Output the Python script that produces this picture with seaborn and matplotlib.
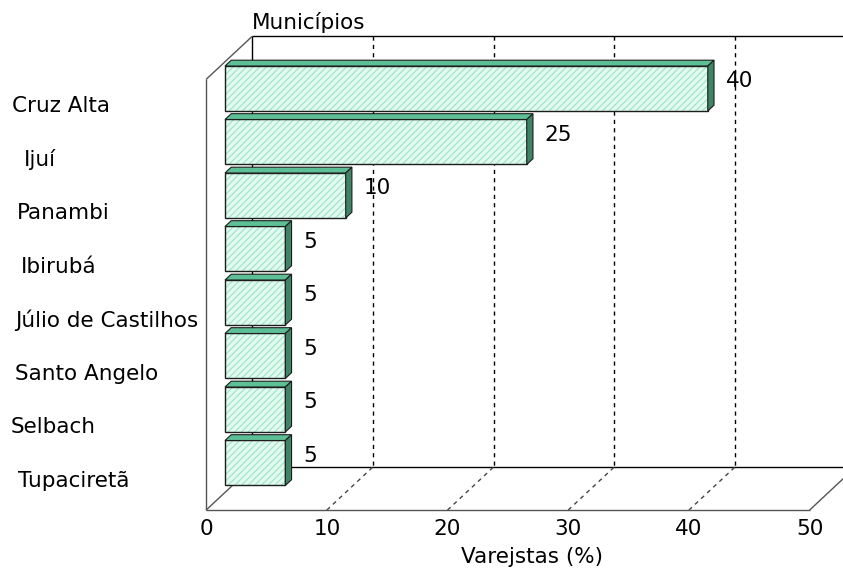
import matplotlib
matplotlib.use("Agg")
import matplotlib.pyplot as plt
import pandas as pd
import seaborn as sns
from matplotlib.patches import Polygon, Rectangle

# Share of retailers by municipality
municipios = ["Cruz Alta", "Ijuí", "Panambi", "Ibirubá", "Júlio de Castilhos",
              "Santo Angelo", "Selbach", "Tupaciretã"]
varejistas = [40, 25, 10, 5, 5, 5, 5, 5]
x_ticks = [0, 10, 20, 30, 40, 50]
x_label = "Varejstas (%)"
y_title = "Municípios"

# left indent (px) of each category label
label_indent_px = [12, 24, 17, 21, 15, 15, 11, 18]

W, H, DPI = 843, 569, 100
BAR_ZERO_PX = 225.0      # x pixel of value 0 on the bar front plane
PX_PER_UNIT = 12.07      # pixels per percentage point
ROW0_PX = 88.5           # y pixel of the first row centre
ROW_PX = 53.5            # row pitch in pixels
DEPTH_DX, DEPTH_DY = 46.0, 43.0   # oblique depth of the whole box, in pixels
T_BAR, T_BAR_BACK = 0.41, 0.545   # depth of bar front / back faces

FACE = "#e2faf0"
HATCH = "#a2e6ca"
TOP = "#5dbf96"
SIDE = "#3f8465"
EDGE = "#1e1e1e"
FONT = 15.5

sns.set_theme(style="white")
plt.rcParams["font.family"] = ["DejaVu Sans"]
plt.rcParams["hatch.linewidth"] = 0.9

fig = plt.figure(figsize=(W / DPI, H / DPI), dpi=DPI)
ax = fig.add_axes([0, 0, 1, 1])

df = pd.DataFrame({"municipio": municipios, "pct": varejistas})
sns.barplot(data=df, x="pct", y="municipio", orient="h", width=45 / ROW_PX,
            color=FACE, saturation=1, errorbar=None, ax=ax, zorder=3)

n = len(municipios)
ax.set_xlim(-BAR_ZERO_PX / PX_PER_UNIT, (W - BAR_ZERO_PX) / PX_PER_UNIT)
ax.set_ylim((H - ROW0_PX) / ROW_PX, -ROW0_PX / ROW_PX)
ax.axis("off")


def P(v, i, t):
    """Project (value, row, depth) onto the flat data plane of the bars."""
    dv = DEPTH_DX * (t - T_BAR) / PX_PER_UNIT
    di = -DEPTH_DY * (t - T_BAR) / ROW_PX
    return (v + dv, i + di)


def seg(p, q, **kw):
    ax.plot([p[0], q[0]], [p[1], q[1]], solid_capstyle="butt", **kw)


top_i, floor_i = -0.5, n - 0.45
xmax = x_ticks[-1]

# back wall and floor of the box
back = dict(color="black", lw=1.0, zorder=1)
seg(P(0, top_i, 1), P(0, floor_i, 1), **back)
seg(P(0, top_i, 1), P(xmax, top_i, 1), **back)
seg(P(0, floor_i, 1), P(xmax, floor_i, 1), **back)
for t in x_ticks[1:-1]:
    seg(P(t, top_i, 1), P(t, floor_i, 1), color="black", lw=1.0,
        ls=(0, (3, 3)), zorder=1)
    seg(P(t, floor_i, 0), P(t, floor_i, 1), color="#444444", lw=1.0,
        ls=(0, (3, 3)), zorder=1)
front = dict(color="#555555", lw=1.0, zorder=2)
seg(P(0, floor_i, 0), P(0, floor_i, 1), **front)
seg(P(xmax, floor_i, 0), P(xmax, floor_i, 1), **front)
seg(P(0, floor_i, 0), P(xmax, floor_i, 0), **front)
seg(P(0, top_i, 0), P(0, floor_i, 0), **front)
seg(P(0, top_i, 0), P(0, top_i, 1), **front)

# bars: hatched front faces plus top and side faces
for p, val in zip(ax.patches, varejistas):
    p.set_facecolor(FACE)
    p.set_edgecolor(HATCH)
    p.set_hatch("/////")
    p.set_linewidth(0)
    x0, w, y0, h = p.get_x(), p.get_width(), p.get_y(), p.get_height()
    x1, y1 = x0 + w, y0 + h
    ax.add_patch(Rectangle((x0, y0), w, h, fill=False, ec=EDGE, lw=1.0, zorder=4))
    ax.add_patch(Polygon([P(x0, y0, T_BAR), P(x1, y0, T_BAR),
                          P(x1, y0, T_BAR_BACK), P(x0, y0, T_BAR_BACK)],
                         closed=True, fc=TOP, ec=EDGE, lw=0.8, zorder=4))
    ax.add_patch(Polygon([P(x1, y0, T_BAR), P(x1, y0, T_BAR_BACK),
                          P(x1, y1, T_BAR_BACK), P(x1, y1, T_BAR)],
                         closed=True, fc=SIDE, ec=EDGE, lw=0.8, zorder=4))
    ax.text(x1 + 18 / PX_PER_UNIT, y0 + h / 2 - 7 / ROW_PX, f"{val:g}",
            ha="left", va="center", fontsize=FONT, color="black", zorder=5)

# category labels on the front plane
for k, (name, ind) in enumerate(zip(municipios, label_indent_px)):
    x = (ind - BAR_ZERO_PX) / PX_PER_UNIT
    ax.text(x, P(0, k, 0)[1], name, ha="left", va="center",
            fontsize=FONT, color="black")

# value axis tick labels along the front floor edge
for t in x_ticks:
    px, py = P(t, floor_i, 0)
    ax.text(px, py + 19 / ROW_PX, f"{t}", ha="center", va="center",
            fontsize=FONT, color="black")

# axis titles
tx, ty = P(0, top_i, 1)
ax.text(tx, ty - 14 / ROW_PX, y_title, ha="left", va="center",
        fontsize=FONT, color="black")
fig.text(532 / W, 1 - 557 / H, x_label, ha="center", va="center",
         fontsize=FONT, color="black")

fig.savefig("out.png", dpi=DPI, facecolor="white")
